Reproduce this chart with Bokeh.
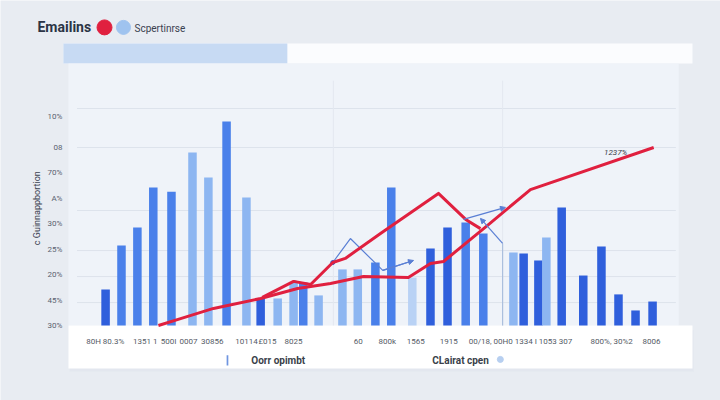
import math
from bokeh.plotting import figure
from bokeh.models import Range1d, FixedTicker, Arrow, NormalHead, ColumnDataSource
from bokeh.core.properties import value
from bokeh.embed import file_html
from bokeh.resources import INLINE

# ---------------- data ----------------
bar_x = [1.6, 4.4, 7.2, 10.0, 13.2, 16.9, 19.7, 22.9, 26.4, 28.9, 31.9, 34.7, 36.4, 39.1,
         43.3, 46.0, 49.1, 51.9, 55.6, 58.8, 61.8, 65.0, 68.1, 73.4, 75.2, 77.8, 79.2,
         81.9, 85.7, 88.9, 91.9, 94.9, 97.9]
bar_val = [1.41, 3.14, 3.84, 5.41, 5.25, 6.78, 5.80, 8.00, 5.02, 1.06, 1.06, 1.69, 1.69, 1.18,
           2.20, 2.20, 2.47, 5.41, 1.88, 3.02, 3.84, 4.04, 3.61, 2.86, 2.82, 2.55, 3.45,
           4.63, 1.96, 3.10, 1.22, 0.59, 0.94]
bar_shade = ["dark", "mid", "mid", "mid", "mid", "light", "light", "mid", "light", "dark",
             "light", "light", "mid", "light", "light", "light", "mid", "mid", "pale", "dark",
             "dark", "mid", "mid", "light", "dark", "dark", "light", "dark", "dark", "dark",
             "dark", "dark", "dark"]

thin_x = [71.5]
thin_val = [3.22]

line_b_x = [10.9, 14.8, 20.6, 28.9, 35.4, 41.2, 47.0, 54.9, 58.8, 61.1, 68.8, 76.4, 98.1]
line_b_y = [0.0, 0.27, 0.67, 1.06, 1.45, 1.65, 1.92, 1.88, 2.43, 2.51, 3.92, 5.33, 6.98]

line_a_x = [29.2, 34.7, 37.7, 41.6, 43.8, 50.0, 60.2, 65.0, 67.6]
line_a_y = [1.10, 1.73, 1.61, 2.47, 2.63, 3.61, 5.18, 4.16, 3.80]

blue_c_x = [41.6, 44.7, 50.4, 55.8]
blue_c_y = [2.47, 3.41, 2.16, 2.55]
blue_s_x = [34.7, 37.7]
blue_s_y = [1.76, 1.57]
blue_d = (64.6, 4.16, 72.0, 4.63)
blue_e = (71.5, 3.22, 67.6, 4.20)

y_ticks = [0, 1, 2, 3, 4, 5, 6, 7, 8.2]
y_tick_labels = ["30%", "45%", "20%", "25%", "30%", "A%", "70%", "08", "10%"]
grid_vals = [0.9, 1.92, 2.94, 4.51, 6.98, 8.51]

x_tick_pos = [-0.5, 3.0, 8.6, 12.7, 16.2, 20.4, 26.4, 30.1, 34.7, 46.1, 51.2, 56.2, 62.0,
              69.4, 78.7, 90.7, 97.7]
x_tick_labels = ["80H", "80.3%", "1351 1", "500I", "0007", "30856", "10114", "£015", "8025",
                 "60", "800k", "1565", "1915", "00/18, 00H0", "1334 I 1053 307",
                 "800%, 30%2", "8006"]

title_text = "Emailins"
legend_text = "Scpertinrse"
y_title = "c Guinnappbortion"
x_title_1 = "Oorr opimbt"
x_title_2 = "CLairat cpen"
note_text = "1237%"

# ---------------- styling ----------------
shade_colors = {"dark": "#2f5fdc", "mid": "#4a80ea", "light": "#8db6f1", "pale": "#b9d2f5"}
PAGE = "#e8ecf2"
RED = "#e0203f"
BLUE_LINE = "#5a7fd4"
CARD_L, CARD_R, PANEL_R = -4.93, 104.93, 102.5

# frame = whole canvas; x 0..100 -> px 96..664 ; y 0 -> px 325, 25.5 px per unit
p = figure(width=720, height=400, output_backend="svg", toolbar_location=None,
           x_range=Range1d(-16.90, 109.86), y_range=Range1d(-2.941, 12.745),
           min_border=0, min_border_left=0, min_border_right=0, min_border_top=0,
           min_border_bottom=0,
           background_fill_color=PAGE, border_fill_color=PAGE, outline_line_color=None)
p.xaxis.visible = False
p.yaxis.visible = False

# card pieces
p.quad(left=CARD_L - 0.9, right=CARD_R, top=11.06, bottom=10.27, fill_color="#fbfcfe", line_color=None)
p.quad(left=CARD_L - 0.9, right=33.6, top=11.06, bottom=10.27, fill_color="#c7daf3", line_color=None)
p.quad(left=CARD_L, right=PANEL_R, top=10.27, bottom=0.0, fill_color="#eff3f9", line_color=None)
p.quad(left=CARD_L + 0.2, right=CARD_R + 0.2, top=-0.2, bottom=-1.80, fill_color="#dfe4ec",
       line_color=None, fill_alpha=0.6)
p.quad(left=CARD_L, right=CARD_R, top=0.0, bottom=-1.69, fill_color="#ffffff", line_color=None)

# grid
p.ygrid.ticker = FixedTicker(ticks=grid_vals)
p.ygrid.grid_line_color = None
p.xgrid.grid_line_color = None
p.segment(x0=[CARD_L + 1.5] * len(grid_vals), x1=[PANEL_R - 0.5] * len(grid_vals),
          y0=grid_vals, y1=grid_vals, line_color="#dde3ec", line_width=1)
p.segment(x0=[41.7, 71.5], x1=[41.7, 71.5], y0=[0, 0], y1=[9.6, 9.6],
          line_color="#e3e8f0", line_width=1)

# y tick labels and y title
p.text([-5.99] * len(y_ticks), y_ticks, text=y_tick_labels, text_font=value("Roboto"),
       text_font_size="8px", text_color="#5a6270", text_align="right", text_baseline="middle")
p.text([-10.39], [4.6], text=[y_title], angle=math.pi / 2, text_font=value("Roboto"),
       text_font_size="9px", text_color="#3a4150", text_align="center", text_baseline="middle")

# bars
src = ColumnDataSource(dict(x=bar_x, top=bar_val, color=[shade_colors[s] for s in bar_shade]))
p.vbar(x="x", top="top", bottom=0, width=1.5, fill_color="color", line_color=None, source=src)
p.vbar(x=thin_x, top=thin_val, bottom=0, width=0.2, fill_color="#a9bedc", line_color=None)

# thin blue lines
p.line(blue_c_x, blue_c_y, line_color=BLUE_LINE, line_width=1.2)
p.line(blue_s_x, blue_s_y, line_color=BLUE_LINE, line_width=1.2)
for xs, ys, xe, ye in [(blue_c_x[-2], blue_c_y[-2], blue_c_x[-1], blue_c_y[-1]), blue_d, blue_e]:
    p.add_layout(Arrow(end=NormalHead(size=5, fill_color=BLUE_LINE, line_color=BLUE_LINE),
                       x_start=xs, y_start=ys, x_end=xe, y_end=ye,
                       line_color=BLUE_LINE, line_width=1.2))
p.scatter([blue_c_x[0]], [blue_c_y[0]], size=4, color="#3056c8")

# red lines
p.line(line_b_x, line_b_y, line_color=RED, line_width=3, line_join="round")
p.line(line_a_x, line_a_y, line_color=RED, line_width=3, line_join="round")

# note
p.text([91.4], [6.78], text=[note_text], text_font=value("Roboto"), text_font_size="8px",
       text_font_style="italic", text_color="#3a3f4a", text_align="center", text_baseline="middle")

# x tick labels
p.text(x_tick_pos, [-0.63] * len(x_tick_pos), text=x_tick_labels, text_font=value("Roboto"),
       text_font_size="8px", text_color="#555b66", text_align="center", text_baseline="middle")

# x titles
p.text([32.0, 64.1], [-1.37, -1.37], text=[x_title_1, x_title_2], text_font=value("Roboto"),
       text_font_size="10px", text_font_style="bold", text_color="#3a3f4a",
       text_align="center", text_baseline="middle")
p.rect([23.06], [-1.37], width=0.3, height=0.4, fill_color="#6f95e0", line_color=None)
p.scatter([71.1], [-1.33], size=6, color="#b7cff0")

# title + legend row
p.text([-10.39], [11.69], text=[title_text], text_font=value("Roboto"), text_font_size="14px",
       text_font_style="bold", text_color="#2b3445", text_baseline="middle")
p.scatter([1.41], [11.69], size=15, color=RED)
p.scatter([4.75], [11.69], size=14, color="#9fc3ef")
p.text([6.69], [11.65], text=[legend_text], text_font=value("Roboto"), text_font_size="10px",
       text_color="#3a4150", text_baseline="middle")

open("out.html", "w").write(file_html(p, INLINE))
